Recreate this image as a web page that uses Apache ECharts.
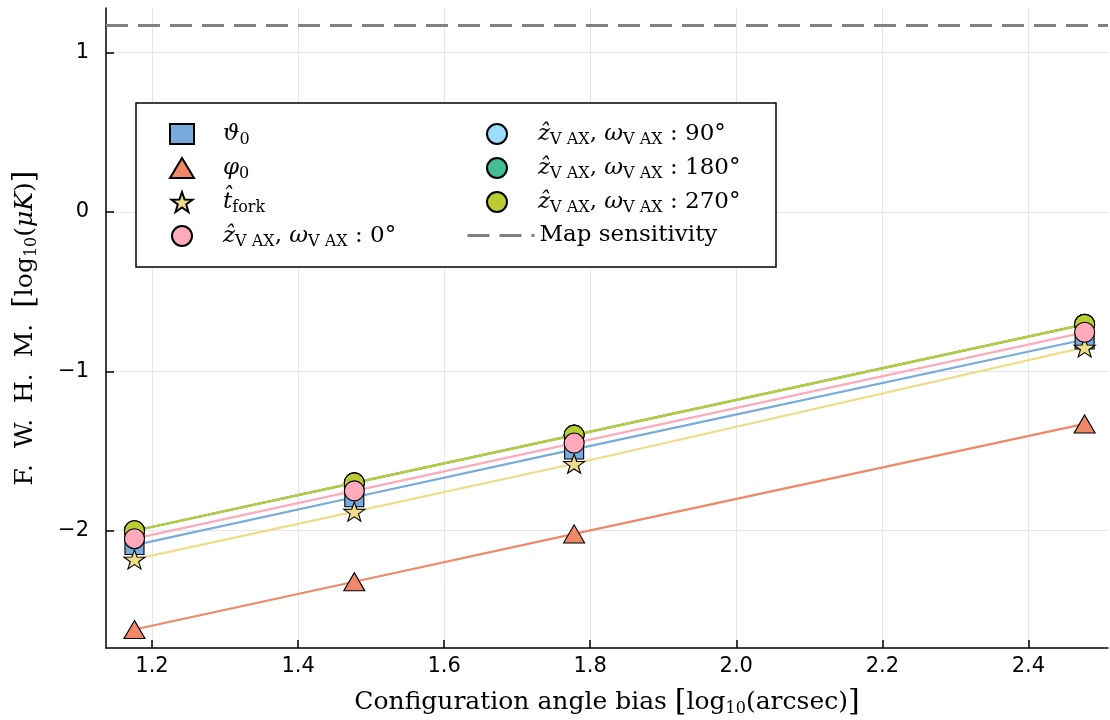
<!DOCTYPE html>
<html><head><meta charset="utf-8">
<script src="https://cdn.jsdelivr.net/npm/echarts@6/dist/echarts.min.js"></script>
<style>html,body{margin:0;padding:0;background:#fff}#c{width:1110px;height:720px}</style>
</head><body><div id="c"></div>
<script>
var xVals = [1.176, 1.477, 1.778, 2.477];
var theta0 = [-2.09, -1.79, -1.49, -0.80];
var phi0 = [-2.62, -2.32, -2.02, -1.33];
var tfork = [-2.18, -1.88, -1.58, -0.85];
var z0 = [-2.05, -1.75, -1.45, -0.755];
var z90 = [-2.00, -1.70, -1.40, -0.705];
var z180 = [-2.00, -1.70, -1.40, -0.705];
var z270 = [-2.00, -1.70, -1.40, -0.705];
var sensitivity = 1.17;
var xRange = [1.137, 2.509];
var yRange = [-2.736, 1.28];
var xTicks = [1.2, 1.4, 1.6, 1.8, 2.0, 2.2, 2.4];
var yTicks = [-2, -1, 0, 1];

var colors = {theta0:'#77AADD', phi0:'#EE8866', tfork:'#EEDD88', z0:'#FFAABB', z90:'#99DDFF', z180:'#44BB99', z270:'#BBCC33'};
var starPath = 'path://M0,-10 L2.35,-3.24 L9.51,-3.09 L3.8,1.24 L5.88,8.09 L0,4 L-5.88,8.09 L-3.8,1.24 L-9.51,-3.09 L-2.35,-3.24 Z';
var symbols = {theta0:'rect', phi0:'triangle', tfork:starPath, z0:'circle', z90:'circle', z180:'circle', z270:'circle'};
var sizes = {theta0:[19,19], phi0:[21,18], tfork:[21,20], z0:20, z90:20, z180:20, z270:20};
var values = {theta0:theta0, phi0:phi0, tfork:tfork, z0:z0, z90:z90, z180:z180, z270:z270};
var zorder = {theta0:3, phi0:3, tfork:4, z0:8, z90:5, z180:6, z270:7};

var zv = '{it|ẑ}{s|V AX}{m|, }{it|ω}{s|V AX}{m| : ';
var labels = {
  theta0: '{g|}{it|ϑ}{s|0}',
  phi0: '{g|}{it|φ}{s|0}',
  tfork: '{g|}{it|t̂}{s|fork}',
  z0: '{g|}' + zv + '0°}',
  z90: '{g|}' + zv + '90°}',
  z180: '{g|}' + zv + '180°}',
  z270: '{g|}' + zv + '270°}',
  map: '{m|Map sensitivity}'
};
var serif = 'DejaVu Serif';
var rich = {
  g: {width: 24},
  m: {fontFamily: serif, fontSize: 23, lineHeight: 28, verticalAlign: 'middle', color: '#000'},
  it: {fontFamily: serif, fontSize: 23, fontStyle: 'italic', lineHeight: 28, verticalAlign: 'middle', color: '#000'},
  s: {fontFamily: serif, fontSize: 16, lineHeight: 16, verticalAlign: 'bottom', color: '#000', padding: [12, 0, 0, 0]}
};

function pairs(arr) { return xVals.map(function (x, i) { return [x, arr[i]]; }); }

var series = [];
['theta0','phi0','tfork','z0','z90','z180','z270'].forEach(function (k) {
  series.push({
    name: k + '_line', type: 'line', data: pairs(values[k]), showSymbol: false, symbol: 'none',
    lineStyle: {color: colors[k], width: 2.2}, z: 2, silent: true, animation: false
  });
});
['theta0','phi0','tfork','z0','z90','z180','z270'].forEach(function (k) {
  series.push({
    name: k, type: 'scatter', data: pairs(values[k]), symbol: symbols[k], symbolSize: sizes[k],
    symbolKeepAspect: true,
    itemStyle: {color: colors[k], borderColor: '#000', borderWidth: 1.1, opacity: 1},
    z: zorder[k], animation: false
  });
});
series.push({
  name: 'map', type: 'line', data: [[xRange[0], sensitivity], [xRange[1], sensitivity]],
  symbol: 'none', showSymbol: false,
  itemStyle: {color: '#808080'},
  lineStyle: {color: '#808080', width: 3, type: [22, 10]}, z: 2, animation: false
});

function legendBase(data, left, top, w) {
  return {
    data: data, orient: 'vertical', left: left, top: top, itemWidth: w, itemHeight: 20,
    itemGap: 6, z: 10, selectedMode: false,
    formatter: function (n) { return labels[n]; },
    textStyle: {rich: rich, fontFamily: serif, fontSize: 23, color: '#000'}
  };
}
var legC = legendBase(['map'], 461, 219, 67);
legC.itemStyle = {opacity: 0};
legC.lineStyle = {color: '#808080', width: 3, type: [22, 10]};

var nameRich = {
  s: {fontFamily: serif, fontSize: 16, verticalAlign: 'bottom', padding: [13, 0, 0, 0]},
  it: {fontFamily: serif, fontSize: 25, fontStyle: 'italic'},
  b: {fontFamily: serif, fontSize: 30}
};

var option = {
  animation: false,
  backgroundColor: '#fff',
  grid: {left: 106, right: 2, top: 8, bottom: 72, containLabel: false, outerBoundsMode: 'none'},
  xAxis: {
    type: 'value', min: xRange[0], max: xRange[1],
    name: 'Configuration angle bias {b|[}log{s|10}(arcsec){b|]}', nameLocation: 'middle', nameGap: 39,
    nameTextStyle: {fontFamily: serif, fontSize: 25, color: '#000', rich: nameRich},
    axisLine: {show: true, onZero: false, lineStyle: {color: '#000', width: 1.5}},
    axisTick: {show: true, inside: true, length: 8, customValues: xTicks, lineStyle: {color: '#000', width: 1.5}},
    axisLabel: {customValues: xTicks, fontFamily: 'DejaVu Sans', fontSize: 21, color: '#000', margin: 8,
      formatter: function (v) { return v.toFixed(1); }},
    splitLine: {show: true, lineStyle: {color: '#e6e6e6', width: 1}}
  },
  yAxis: {
    type: 'value', min: yRange[0], max: yRange[1],
    name: 'F.  W.  H.  M.  {b|[}log{s|10}({it|μK}){b|]}', nameLocation: 'middle', nameGap: 66, nameRotate: 90,
    nameTextStyle: {fontFamily: serif, fontSize: 25, color: '#000', rich: nameRich},
    axisLine: {show: true, onZero: false, lineStyle: {color: '#000', width: 1.5}},
    axisTick: {show: true, inside: true, length: 8, customValues: yTicks, lineStyle: {color: '#000', width: 1.5}},
    axisLabel: {customValues: yTicks, fontFamily: 'DejaVu Sans', fontSize: 21, color: '#000', margin: 17,
      formatter: function (v) { return String(v).replace('-', '\u2212'); }},
    splitLine: {show: true, lineStyle: {color: '#e6e6e6', width: 1}}
  },
  legend: [
    legendBase(['theta0','phi0','tfork','z0'], 164, 115, 24),
    legendBase(['z90','z180','z270'], 481, 115, 24),
    legC
  ],
  graphic: [{
    type: 'rect', shape: {x: 136, y: 103, width: 640, height: 164}, z: 5,
    style: {fill: '#fff', stroke: '#000', lineWidth: 1.5}
  }],
  series: series
};
var chart = echarts.init(document.getElementById('c'));
chart.setOption(option);
</script></body></html>
